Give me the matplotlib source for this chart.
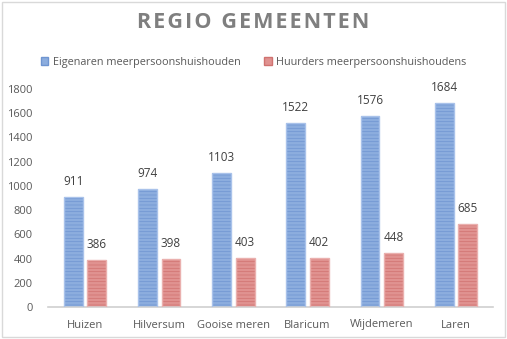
import numpy as np
import matplotlib
matplotlib.use("Agg")
import matplotlib.pyplot as plt
from matplotlib.patches import Rectangle

# Figure size in pixels
W_PX = 507
H_PX = 339
DPI = 100

gemeenten = ["Huizen", "Hilversum", "Gooise meren", "Blaricum", "Wijdemeren", "Laren"]
eigenaren = [911, 974, 1103, 1522, 1576, 1684]
huurders = [386, 398, 403, 402, 448, 685]
series_names = ["Eigenaren meerpersoonshuishouden", "Huurders meerpersoonshuishoudens"]
yticks = [0, 200, 400, 600, 800, 1000, 1200, 1400, 1600, 1800]

BLUE_FILL = "#8cadde"
BLUE_LINE = "#6f95d1"
BLUE_EDGE = "#a9c2ea"
RED_FILL = "#e09290"
RED_LINE = "#d07270"
RED_EDGE = "#eab0ae"

TEXT = "#595959"
FONT = "Open Sans"

plt.rcParams["font.family"] = [FONT, "DejaVu Sans"]
plt.rcParams["hatch.linewidth"] = 0.5

fig = plt.figure(figsize=(W_PX / DPI, H_PX / DPI), dpi=DPI)
fig.patch.set_facecolor("white")

# Chart area border
fig.add_artist(Rectangle((2 / W_PX, 2 / H_PX), 1 - 4 / W_PX, 1 - 4 / H_PX,
                         transform=fig.transFigure, fill=False,
                         edgecolor="#d9d9d9", linewidth=1))

ax = fig.add_axes([48 / W_PX, 32 / H_PX, 445 / W_PX, 218 / H_PX])

x = np.arange(len(gemeenten))
width = 0.255
offset = 0.158


def striped_bars(xpos, values, fill, stripe, edge):
    # fill with thin horizontal stripes, then a soft outline on top
    ax.bar(xpos, values, width, color=fill, edgecolor=stripe, linewidth=0,
           hatch="-----", zorder=2)
    ax.bar(xpos, values, width, fill=False, edgecolor=edge, linewidth=1.0,
           zorder=3)


striped_bars(x - offset, eigenaren, BLUE_FILL, BLUE_LINE, BLUE_EDGE)
striped_bars(x + offset, huurders, RED_FILL, RED_LINE, RED_EDGE)

for xi, v in zip(x - offset, eigenaren):
    ax.annotate(str(v), (xi, v), xytext=(0, 6.5), textcoords="offset points",
                ha="center", va="bottom", fontsize=8.5, color="#404040")
for xi, v in zip(x + offset, huurders):
    ax.annotate(str(v), (xi, v), xytext=(0, 6.5), textcoords="offset points",
                ha="center", va="bottom", fontsize=8.5, color="#404040")

ax.set_xlim(-0.5, len(gemeenten) - 0.5)
ax.set_ylim(0, 1800)
ax.set_yticks(yticks)
ax.set_xticks(x)
ax.set_xticklabels(gemeenten)
ax.tick_params(axis="both", length=0, labelsize=8, colors=TEXT)
ax.tick_params(axis="x", pad=9)
ax.tick_params(axis="y", pad=11)

for side in ["top", "right", "left"]:
    ax.spines[side].set_visible(False)
ax.spines["bottom"].set_color("#d0d0d0")
ax.spines["bottom"].set_linewidth(1.2)

# Title with widened letter spacing
title = "REGIO GEMEENTEN"
spaced = "\u200a".join(title)
fig.text(0.5, 1 - 22 / H_PX, spaced, ha="center", va="center",
         fontsize=15.5, fontweight="bold", color="#7f7f7f")

# Legend
handles = [Rectangle((0, 0), 1, 1, facecolor=BLUE_FILL, edgecolor=BLUE_LINE),
           Rectangle((0, 0), 1, 1, facecolor=RED_FILL, edgecolor=RED_LINE)]
fig.legend(handles, series_names, loc="center", ncol=2,
           bbox_to_anchor=(0.5, 1 - 62 / H_PX), frameon=False,
           fontsize=7.8, labelcolor=TEXT, handlelength=0.7, handleheight=0.7,
           handletextpad=0.4, columnspacing=2.2)

fig.savefig("out.png", dpi=DPI, facecolor="white")
